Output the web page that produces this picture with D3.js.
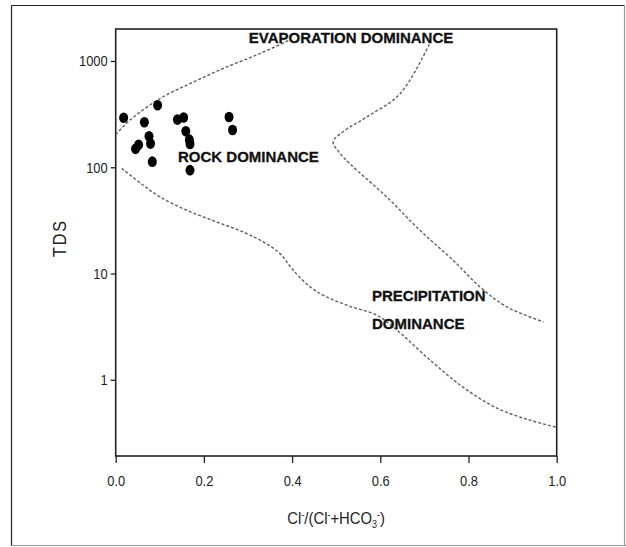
<!DOCTYPE html>
<html>
<head>
<meta charset="utf-8">
<script src="https://cdn.jsdelivr.net/npm/d3@7"></script>
<style>
  html, body { margin: 0; padding: 0; background: #fff; }
  svg { display: block; }
  .tick text { font-family: "Liberation Sans", Arial, sans-serif; }
</style>
</head>
<body>
<svg id="chart" width="626" height="547"></svg>
<script>
// ---- Data ----
// Sample points: Cl-/(Cl- + HCO3-) ratio and TDS
const sampleRatio = [0.018, 0.095, 0.065, 0.0755, 0.079, 0.045, 0.052, 0.083, 0.140, 0.154, 0.159, 0.167, 0.1685, 0.1685, 0.257, 0.265];
const sampleTDS   = [292,   383,   265,   196,    167,   149,   163,   113,   281,   294,   218,   182,   166,    94,     297,   224];

// Gibbs boundary: upper-left (rock / evaporation)
const upperLeftX = [0.0, 0.032, 0.1005, 0.176, 0.252, 0.327, 0.392];
const upperLeftY = [203, 277,   443,    634,   879,   1174,  1560];

// Gibbs boundary: lower (rock / precipitation)
const lowerX = [0.0136, 0.0626, 0.1005, 0.161, 0.229, 0.289, 0.335, 0.3726, 0.403, 0.441, 0.478, 0.531, 0.592, 0.638, 0.713, 0.7875, 0.8646, 0.9395, 1.0];
const lowerY = [97.7,   67.7,   52.6,   39.4,  30.6,  24.6,  19.8,  15.4,   10.7,  7.48,  6.03,  4.92,  4.06,  2.93,  1.53,  0.853,  0.541,  0.417,  0.358];

// Gibbs boundary: right (evaporation / rock / precipitation nose)
const rightX = [0.711, 0.645, 0.569, 0.515, 0.493, 0.509, 0.531, 0.6145, 0.690, 0.7655, 0.826, 0.887, 0.970];
const rightY = [1435,  493,   297,   215,   173,   135,   108,   52.6,   25.5,  13.3,   7.48,  4.85,  3.51];

// Axis ticks
const xTicks = [0.0, 0.2, 0.4, 0.6, 0.8, 1.0];
const yTicks = [1, 10, 100, 1000];

// ---- Layout ----
const svg = d3.select("#chart");
const mLeft = 115.7, mRight = 556.7, mTop = 29, mBottom = 456;

const x = d3.scaleLinear().domain([0, 1]).range([mLeft, mRight]);
const y = d3.scaleLog().domain([0.192, 2000]).range([mBottom, mTop]);

// Outer frame
svg.append("line").attr("x1", 11.5).attr("y1", 5.5).attr("x2", 11.5).attr("y2", 546).attr("stroke", "#222").attr("stroke-width", 1.2);
svg.append("line").attr("x1", 11.5).attr("y1", 5.5).attr("x2", 624.5).attr("y2", 5.5).attr("stroke", "#222").attr("stroke-width", 1.2);
svg.append("line").attr("x1", 11.5).attr("y1", 545.5).attr("x2", 626).attr("y2", 545.5).attr("stroke", "#999").attr("stroke-width", 1.2);
svg.append("line").attr("x1", 624.5).attr("y1", 5.5).attr("x2", 624.5).attr("y2", 546).attr("stroke", "#999").attr("stroke-width", 1.2);

// Clip
svg.append("defs").append("clipPath").attr("id", "plotclip")
  .append("rect").attr("x", mLeft).attr("y", mTop).attr("width", mRight - mLeft).attr("height", mBottom - mTop);

// Axes
const xAxis = d3.axisBottom(x).tickValues(xTicks).tickFormat(d3.format(".1f")).tickSizeInner(7).tickSizeOuter(0).tickPadding(12);
const gx = svg.append("g").attr("transform", `translate(0,${mBottom})`).call(xAxis);
gx.selectAll("text").attr("font-size", 15).attr("fill", "#222");

const yAxis = d3.axisLeft(y).tickValues(yTicks).tickFormat(d3.format("d")).tickSizeInner(5).tickSizeOuter(0).tickPadding(3);
const gy = svg.append("g").attr("transform", `translate(${mLeft},0)`).call(yAxis);
gy.selectAll("text").attr("font-size", 15).attr("fill", "#222");

[gx, gy].forEach(g => {
  g.select(".domain").remove();
  g.selectAll(".tick line").attr("stroke", "#222").attr("stroke-width", 1.3);
  // narrow the tick labels like the reference's condensed font
  g.selectAll(".tick text").each(function () {
    const w = this.getComputedTextLength();
    d3.select(this).attr("textLength", w * 0.86).attr("lengthAdjust", "spacingAndGlyphs");
  });
});

// Plot frame
svg.append("rect").attr("x", mLeft).attr("y", mTop).attr("width", mRight - mLeft).attr("height", mBottom - mTop)
  .attr("fill", "none").attr("stroke", "#222").attr("stroke-width", 1.6);

// Boundary curves
const plot = svg.append("g").attr("clip-path", "url(#plotclip)");
const line = d3.line().x(d => x(d[0])).y(d => y(d[1])).curve(d3.curveCatmullRom.alpha(0.5));
[[upperLeftX, upperLeftY], [lowerX, lowerY], [rightX, rightY]].forEach(([xs, ys]) => {
  plot.append("path")
    .datum(xs.map((v, i) => [v, ys[i]]))
    .attr("d", line)
    .attr("fill", "none")
    .attr("stroke", "#606060")
    .attr("stroke-width", 1.4)
    .attr("stroke-dasharray", "3,2");
});

// Sample points
plot.selectAll("ellipse.pt")
  .data(sampleRatio.map((v, i) => [v, sampleTDS[i]]))
  .join("ellipse")
  .attr("class", "pt")
  .attr("cx", d => x(d[0]))
  .attr("cy", d => y(d[1]))
  .attr("rx", 4.5)
  .attr("ry", 5.3)
  .attr("fill", "#000");

// Region labels
const lab = (txt, px, py, anchor) => svg.append("text")
  .attr("x", px).attr("y", py).attr("text-anchor", anchor || "start")
  .attr("font-family", "'Liberation Sans', Arial, sans-serif")
  .attr("font-weight", "bold").attr("font-size", 15).attr("fill", "#111")
  .attr("stroke", "#111").attr("stroke-width", 0.3)
  .text(txt);
lab("EVAPORATION DOMINANCE", 351, 42.5, "middle");
lab("ROCK DOMINANCE", 178, 161.5);
lab("PRECIPITATION", 372, 300.7);
lab("DOMINANCE", 372, 329);

// Axis titles
const xt = svg.append("g")
  .attr("transform", `translate(${(mLeft + mRight) / 2},524) scale(0.9,1)`)
  .append("text")
  .attr("x", 0).attr("y", 0).attr("text-anchor", "middle")
  .attr("font-family", "'Liberation Sans', Arial, sans-serif")
  .attr("font-size", 16.5).attr("fill", "#222");
xt.append("tspan").text("Cl");
xt.append("tspan").attr("dy", -6).attr("font-size", 10).text("-");
xt.append("tspan").attr("dy", 6).text("/(Cl");
xt.append("tspan").attr("dy", -6).attr("font-size", 10).text("-");
xt.append("tspan").attr("dy", 6).text("+HCO");
xt.append("tspan").attr("dy", 4).attr("font-size", 10).text("3");
xt.append("tspan").attr("dy", -10).attr("font-size", 10).text("-");
xt.append("tspan").attr("dy", 6).text(")");

svg.append("g")
  .attr("transform", "translate(66,238) rotate(-90) scale(0.9,1)")
  .append("text")
  .attr("text-anchor", "middle")
  .attr("font-family", "'Liberation Sans', Arial, sans-serif")
  .attr("font-size", 18).attr("letter-spacing", 2).attr("fill", "#222")
  .text("TDS");
</script>
</body>
</html>
